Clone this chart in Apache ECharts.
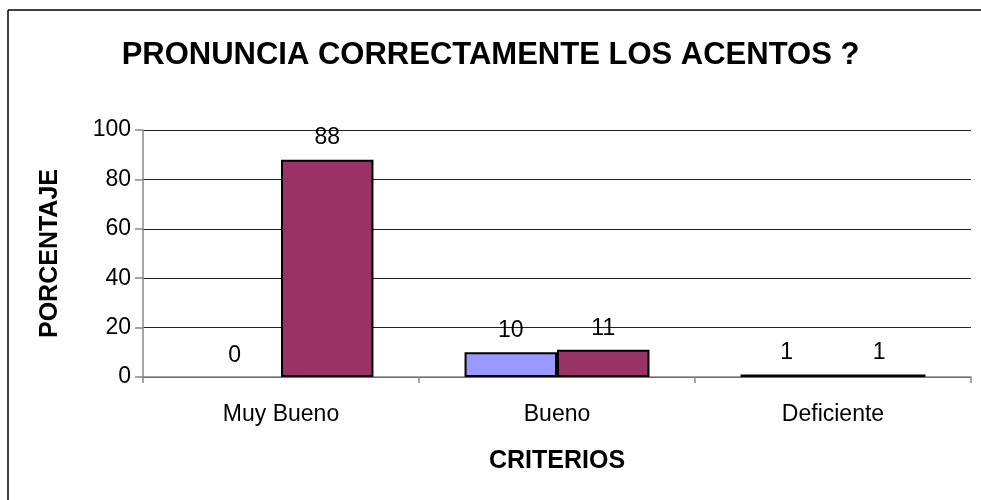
<!DOCTYPE html>
<html>
<head>
<meta charset="utf-8">
<script src="https://cdn.jsdelivr.net/npm/echarts@6/dist/echarts.min.js"></script>
<style>
  html, body { margin: 0; padding: 0; background: #fff; }
  #chart { width: 981px; height: 500px; }
</style>
</head>
<body>
<div id="chart"></div>
<script>
const categories = ['Muy Bueno', 'Bueno', 'Deficiente'];
const serieA = [0, 10, 1];
const serieB = [88, 11, 1];
const yTicks = [0, 20, 40, 60, 80, 100];

const chart = echarts.init(document.getElementById('chart'));
const font = 'Liberation Sans, Arial, sans-serif';

const labelStyle = {
    show: true,
    position: 'top',
    distance: 10,
    color: '#000',
    fontFamily: font,
    fontSize: 23
};

// zero-height bars get no outline, as in the original
function toItems(values) {
    return values.map(function (v) {
        return v === 0 ? { value: v, itemStyle: { borderWidth: 0 } } : v;
    });
}

chart.setOption({
    animation: false,
    title: {
        text: 'PRONUNCIA CORRECTAMENTE LOS ACENTOS ?',
        left: 'center',
        top: 35,
        textStyle: { fontFamily: font, fontWeight: 'bold', fontSize: 31, color: '#000' }
    },
    graphic: [
        { type: 'line', shape: { x1: 8, y1: 10, x2: 981, y2: 10 }, style: { stroke: '#000', lineWidth: 1.5 } },
        { type: 'line', shape: { x1: 8, y1: 10, x2: 8, y2: 500 }, style: { stroke: '#000', lineWidth: 1.5 } }
    ],
    grid: { left: 143, right: 10, top: 130, bottom: 123 },
    xAxis: {
        type: 'category',
        data: categories,
        name: 'CRITERIOS',
        nameLocation: 'middle',
        nameGap: 72,
        nameTextStyle: { fontFamily: font, fontWeight: 'bold', fontSize: 25, color: '#000' },
        axisLine: { lineStyle: { color: '#888', width: 1.5 } },
        axisTick: { show: true, length: 6, lineStyle: { color: '#888', width: 1.5 } },
        axisLabel: { fontFamily: font, fontSize: 23, color: '#000', margin: 26 }
    },
    yAxis: {
        type: 'value',
        min: yTicks[0],
        max: yTicks[yTicks.length - 1],
        interval: 20,
        name: 'PORCENTAJE',
        nameLocation: 'middle',
        nameGap: 80,
        nameRotate: 90,
        nameTextStyle: { fontFamily: font, fontWeight: 'bold', fontSize: 25, color: '#000' },
        axisLine: { show: true, lineStyle: { color: '#888', width: 1.5 } },
        axisTick: { show: true, length: 8, lineStyle: { color: '#888', width: 1.5 } },
        axisLabel: { fontFamily: font, fontSize: 23, color: '#000', margin: 12 },
        splitLine: { show: true, lineStyle: { color: '#222', width: 1.2 } }
    },
    series: [
        {
            type: 'bar',
            data: toItems(serieA),
            barGap: '0%',
            barCategoryGap: '33%',
            itemStyle: { color: '#9999FF', borderColor: '#000', borderWidth: 2 },
            label: labelStyle
        },
        {
            type: 'bar',
            data: toItems(serieB),
            barGap: '0%',
            barCategoryGap: '33%',
            itemStyle: { color: '#993366', borderColor: '#000', borderWidth: 2 },
            label: labelStyle
        }
    ]
});
</script>
</body>
</html>
